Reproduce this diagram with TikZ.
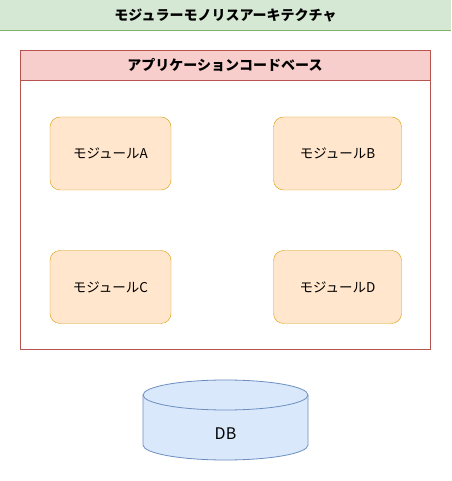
\documentclass[tikz,border=0pt]{standalone}
\usepackage{fontspec}
\setmainfont{Noto Sans CJK JP}
\usepackage{xcolor}
\usepackage{tikz}
\definecolor{hdgreen}{HTML}{D5E8D4}
\definecolor{lngreen}{HTML}{82B366}
\definecolor{hdred}{HTML}{F8CECC}
\definecolor{lnred}{HTML}{B85450}
\definecolor{modfill}{HTML}{FFE6CC}
\definecolor{modline}{HTML}{D79B00}
\definecolor{dbfill}{HTML}{DAE8FC}
\definecolor{dbline}{HTML}{6C8EBF}

\begin{document}
\begin{tikzpicture}[x=1pt, y=1pt,
  module/.style={draw=modline, fill=modfill, rounded corners=10pt,
        minimum height=73pt, font=\fontsize{13.5}{15}\selectfont, inner sep=0pt},
  title/.style={font=\fontsize{14}{16}\selectfont\bfseries}]
  \useasboundingbox (0,0) rectangle (451,481);
  % outer header
  \fill[hdgreen] (0,451) rectangle (451,481);
  \draw[lngreen, line width=0.8pt] (0,451) -- (451,451);
  \node[title] (arch) at (225.5,466) {モジュラーモノリスアーキテクチャ};
  % application code base
  \fill[hdred] (20,401) rectangle (430,431);
  \draw[lnred, line width=0.8pt] (20,132) rectangle (430,431);
  \draw[lnred, line width=0.8pt] (20,401) -- (430,401);
  \node[title] (app) at (225,416) {アプリケーションコードベース};
  % modules
  \foreach \n/\x/\y/\w in {A/110.5/327.5/121, B/337.5/327.5/128,
                           C/110.5/194/121, D/337.5/194/128}{
    \node[module, minimum width=\w pt] (mod\n) at (\x,\y) {モジュール\n};}
  % database
  \path[fill=dbfill, draw=dbline, line width=0.8pt]
    (143,86) -- (143,36) arc[start angle=180, end angle=360, x radius=82.5, y radius=15]
    -- (308,86) arc[start angle=0, end angle=180, x radius=82.5, y radius=15];
  \draw[dbline, line width=0.8pt] (143,86) arc[start angle=180, end angle=360, x radius=82.5, y radius=15];
  \node[font=\fontsize{16}{18}\selectfont] (db) at (225.5,47) {DB};
\end{tikzpicture}
\end{document}
